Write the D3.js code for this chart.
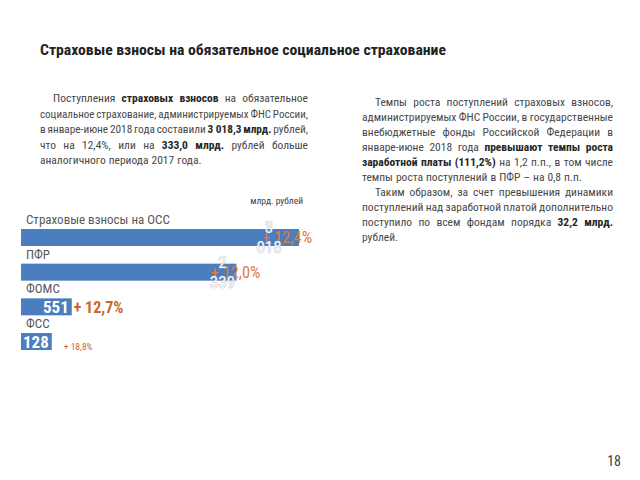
<!DOCTYPE html>
<html><head><meta charset="utf-8">
<script src="https://cdn.jsdelivr.net/npm/d3@7"></script>
<style>
html,body{margin:0;padding:0;background:#fff;}
svg{display:block;}
</style></head>
<body>
<svg id="c" width="640" height="480"></svg>
<script>
// ---- data ----
const categories = ["Страховые взносы на ОСС", "ПФР", "ФОМС", "ФСС"];
const values = [3018, 2339, 551, 128];
const valueLabels = ["3 018", "2 339", "551", "128"];
const growthLabels = ["+ 12,4%", "+ 12,0%", "+ 12,7%", "+ 18,8%"];
const unitLabel = "млрд. рублей";
const titleText = "Страховые взносы на обязательное социальное страхование";
const pageNumber = "18";
// paragraphs: lines of [text, bold]
const leftPara = [
  [["Поступления ", 0], ["страховых взносов", 1], [" на обязательное", 0]],
  [["социальное страхование, администрируемых ФНС России,", 0]],
  [["в январе-июне 2018 года составили ", 0], ["3\u00a0018,3 млрд.", 1], [" рублей,", 0]],
  [["что на 12,4%, или на ", 0], ["333,0 млрд.", 1], [" рублей больше", 0]],
  [["аналогичного периода 2017 года.", 0]]
];
const rightPara = [
  [["Темпы роста поступлений страховых взносов,", 0]],
  [["администрируемых ФНС России, в государственные", 0]],
  [["внебюджетные фонды Российской Федерации в", 0]],
  [["январе-июне 2018 года ", 0], ["превышают темпы роста", 1]],
  [["заработной платы (111,2%)", 1], [" на 1,2 п.п., в том числе", 0]],
  [["темпы роста поступлений в ПФР – на 0,8 п.п.", 0]],
  [["Таким образом, за счет превышения динамики", 0]],
  [["поступлений над заработной платой дополнительно", 0]],
  [["поступило по всем фондам порядка ", 0], ["32,2 млрд.", 1]],
  [["рублей.", 0]]
];

const FONT = "'Liberation Sans Narrow','Arial Narrow','Roboto Condensed','Liberation Sans',sans-serif";
const svg = d3.select("#c");

// title
svg.append("text").attr("x", 40).attr("y", 55)
  .attr("font-family", FONT).attr("font-size", 14.5).attr("font-weight", "bold")
  .attr("fill", "#222").attr("textLength", 406).attr("lengthAdjust", "spacingAndGlyphs")
  .text(titleText);

// justified paragraph
function paragraph(lines, x0, x1, y0, lh, indentLines, lastLines, fs) {
  const g = svg.append("g").attr("font-family", FONT).attr("font-size", fs);
  lines.forEach((segs, i) => {
    const words = [];
    segs.forEach(([t, b]) => {
      t.split(" ").forEach(w => {
        if (w.length) words.push({w: w.replace(/\u00a0/g, " "), b});
      });
    });
    const xs = indentLines.includes(i) ? x0 + 13 : x0;
    const y = y0 + i * lh;
    const nodes = words.map(d => g.append("text").attr("y", y)
      .attr("fill", d.b ? "#262626" : "#474747")
      .attr("font-weight", d.b ? "bold" : "normal").text(d.w));
    const widths = nodes.map(n => n.node().getComputedTextLength());
    const total = d3.sum(widths);
    const space = fs * 0.26;
    let gap = space;
    if (!lastLines.includes(i) && words.length > 1) gap = (x1 - xs - total) / (words.length - 1);
    let sc = 1;
    if (gap < space * 0.6) { sc = (x1 - xs - space * 0.6 * (words.length - 1)) / total; gap = space * 0.6; }
    let cx = xs;
    nodes.forEach((n, k) => {
      n.attr("x", cx);
      if (sc < 1) n.attr("textLength", widths[k] * sc).attr("lengthAdjust", "spacingAndGlyphs");
      cx += widths[k] * sc + gap;
    });
  });
}
paragraph(leftPara, 40, 308, 102, 15.5, [0], [4], 11.5);
paragraph(rightPara, 362, 613, 106, 15, [0, 6], [5, 9], 11.5);

// ---- bar chart ----
const x = d3.scaleLinear().domain([0, d3.max(values)]).range([21, 299]);
const y = d3.scaleBand().domain(categories).range([229, 350]).paddingInner(0.51).paddingOuter(0);
const data = categories.map((c, i) => ({c, v: values[i], lab: valueLabels[i], g: growthLabels[i], i}));

svg.append("text").attr("x", 303).attr("y", 204).attr("text-anchor", "end")
  .attr("font-family", FONT).attr("font-size", 9.5).attr("fill", "#404040").text(unitLabel);

const gb = svg.append("g");
// category labels
gb.selectAll("text.cat").data(data).join("text").attr("class", "cat")
  .attr("x", 26).attr("y", d => y(d.c) - 5)
  .attr("font-family", FONT).attr("font-size", 13).attr("fill", "#595959").text(d => d.c);

// measure small value labels
const meas = svg.append("text").attr("font-family", FONT).attr("font-size", 17).attr("font-weight", "bold");
data.forEach(d => { meas.text(d.lab); d.lw = meas.node().getComputedTextLength(); });
meas.remove();

data.forEach(d => {
  d.end = d.v > 1000 ? x(d.v) : Math.max(x(d.v), x(0) + d.lw + 5);
});

gb.selectAll("rect").data(data).join("rect")
  .attr("x", x(0)).attr("y", d => y(d.c))
  .attr("width", d => d.end - x(0)).attr("height", y.bandwidth())
  .attr("fill", "#4a7ebf");

// value labels
data.forEach(d => {
  const cy = y(d.c) + y.bandwidth() / 2;
  if (d.v > 1000) {
    // growth label sits behind the wrapped value label
    gb.append("text").attr("x", d.end - (d.i === 0 ? 37 : 26)).attr("y", cy + 6)
      .attr("font-family", FONT).attr("font-size", 16.5).attr("fill", "#e07a3c").text(d.g);
    const parts = d.lab.split(" ");
    const cx = d.end - (d.i === 0 ? 30 : 14);
    parts.forEach((p, k) => {
      gb.append("text").attr("x", cx).attr("y", cy + (k === 0 ? -4 : 16))
        .attr("text-anchor", "middle").attr("font-family", FONT).attr("font-size", 17)
        .attr("fill", "#f4f4f4").attr("stroke", "#aab4c4").attr("stroke-width", 0.7)
        .attr("paint-order", "stroke").text(p);
    });
  } else if (d.i === 2) {
    gb.append("text").attr("x", d.end - 3).attr("y", cy + 6).attr("text-anchor", "end")
      .attr("font-family", FONT).attr("font-size", 17).attr("font-weight", "bold")
      .attr("fill", "#fff").text(d.lab);
    gb.append("text").attr("x", d.end + 2).attr("y", cy + 6)
      .attr("font-family", FONT).attr("font-size", 16).attr("font-weight", "bold")
      .attr("fill", "#c8682f").text(d.g);
  } else {
    gb.append("text").attr("x", x(0) + 2).attr("y", cy + 6)
      .attr("font-family", FONT).attr("font-size", 17).attr("font-weight", "bold")
      .attr("fill", "#fff").text(d.lab);
    gb.append("text").attr("x", d.end + 12).attr("y", cy + 8)
      .attr("font-family", FONT).attr("font-size", 9.5)
      .attr("fill", "#c8682f").text(d.g);
  }
});

// page number
svg.append("text").attr("x", 621).attr("y", 466).attr("text-anchor", "end")
  .attr("font-family", FONT).attr("font-size", 14).attr("fill", "#404040").text(pageNumber);
</script>
</body></html>
